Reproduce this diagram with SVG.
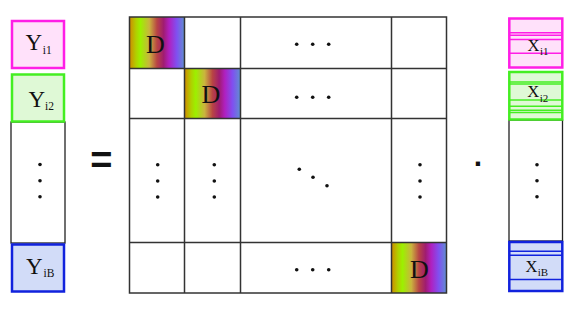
<svg xmlns="http://www.w3.org/2000/svg" width="581" height="313" viewBox="0 0 581 313">
<defs>
<linearGradient id="rain" x1="0" y1="0" x2="1" y2="0">
<stop offset="0" stop-color="#d08a00"/>
<stop offset="0.12" stop-color="#b0d000"/>
<stop offset="0.2" stop-color="#9cf000"/>
<stop offset="0.36" stop-color="#cab43e"/>
<stop offset="0.5" stop-color="#b84444"/>
<stop offset="0.62" stop-color="#a01c70"/>
<stop offset="0.72" stop-color="#b020c0"/>
<stop offset="0.86" stop-color="#8050f0"/>
<stop offset="1" stop-color="#6090d0"/>
</linearGradient>
<style>
.grid{fill:none;stroke:#333;stroke-width:1.5}
.dot{fill:#111}
.big{font-family:"Liberation Serif","Times New Roman",serif;fill:#111}
.mag{stroke:#ff1ee6;fill:#ffe1fa}
.grn{stroke:#44ee22;fill:#dff9d6}
.blu{stroke:#1122dd;fill:#d2dcf8}
.mag,.grn,.blu{stroke-width:2.5}
.ml{stroke:#ff1ee6;stroke-width:1.5}
.gl{stroke:#44ee22;stroke-width:1.5}
.bl{stroke:#1122dd;stroke-width:1.5}
.wbox{fill:#fff;stroke:#222;stroke-width:1.3}
.op{font-family:"Liberation Sans",Arial,sans-serif;font-weight:bold;fill:#111}
</style>
</defs>
<rect width="581" height="313" fill="#fff"/>

<g id="Y">
<rect class="wbox" x="11" y="122" width="54" height="121"/>
<circle class="dot" cx="40" cy="164.5" r="1.8"/>
<circle class="dot" cx="40" cy="180.7" r="1.8"/>
<circle class="dot" cx="40" cy="196.7" r="1.8"/>
<g id="Yi1">
<rect class="mag" x="12" y="21" width="52" height="47"/>
<text class="big" x="25.5" y="50" font-size="23">Y</text>
<text class="big" x="42.7" y="54.3" font-size="11.5">i1</text>
</g>
<g id="Yi2">
<rect class="grn" x="12" y="74.5" width="52" height="47"/>
<text class="big" x="28.5" y="106.7" font-size="23">Y</text>
<text class="big" x="45" y="110" font-size="11.5">i2</text>
</g>
<g id="YiB">
<rect class="blu" x="12" y="244.5" width="52" height="47"/>
<text class="big" x="26" y="274" font-size="23">Y</text>
<text class="big" x="43.5" y="276.7" font-size="11.5">iB</text>
</g>
</g>

<g id="eq">
<text class="op" x="101.3" y="173" font-size="38" text-anchor="middle">=</text>
</g>

<g id="M">
<rect x="129.5" y="17" width="55" height="51.5" fill="url(#rain)"/>
<rect x="184.5" y="68.5" width="56" height="50" fill="url(#rain)"/>
<rect x="391.5" y="242.5" width="55" height="50.5" fill="url(#rain)"/>
<text class="big" x="155.5" y="52.5" font-size="26" text-anchor="middle">D</text>
<text class="big" x="211" y="103.2" font-size="26" text-anchor="middle">D</text>
<text class="big" x="419.3" y="277.8" font-size="26" text-anchor="middle">D</text>
<rect class="grid" x="129.5" y="17" width="317" height="276"/>
<line class="grid" x1="184.5" y1="17" x2="184.5" y2="293"/>
<line class="grid" x1="240.5" y1="17" x2="240.5" y2="293"/>
<line class="grid" x1="391.5" y1="17" x2="391.5" y2="293"/>
<line class="grid" x1="129.5" y1="68.5" x2="446.5" y2="68.5"/>
<line class="grid" x1="129.5" y1="118.5" x2="446.5" y2="118.5" stroke="#666"/>
<line class="grid" x1="129.5" y1="242.5" x2="446.5" y2="242.5" stroke="#666"/>
<g class="dot">
<circle cx="296.7" cy="44.3" r="1.8"/><circle cx="312.7" cy="44.3" r="1.8"/><circle cx="328.7" cy="44.3" r="1.8"/>
<circle cx="296.7" cy="97.3" r="1.8"/><circle cx="312.7" cy="97.3" r="1.8"/><circle cx="328.7" cy="97.3" r="1.8"/>
<circle cx="296.7" cy="269.7" r="1.8"/><circle cx="312.7" cy="269.7" r="1.8"/><circle cx="328.7" cy="269.7" r="1.8"/>
<circle cx="157.7" cy="164.7" r="1.8"/><circle cx="157.7" cy="181" r="1.8"/><circle cx="157.7" cy="197" r="1.8"/>
<circle cx="214.3" cy="164.7" r="1.8"/><circle cx="214.3" cy="181" r="1.8"/><circle cx="214.3" cy="197" r="1.8"/>
<circle cx="420" cy="164.7" r="1.8"/><circle cx="420" cy="181" r="1.8"/><circle cx="420" cy="197" r="1.8"/>
<circle cx="299.3" cy="169.3" r="1.8"/><circle cx="313" cy="177.3" r="1.8"/><circle cx="327" cy="185.7" r="1.8"/>
</g>
</g>

<g id="dotop">
<text class="op" x="478.7" y="174" font-size="30" text-anchor="middle">·</text>
</g>

<g id="X">
<rect class="wbox" x="509" y="120" width="53.5" height="121"/>
<circle class="dot" cx="537" cy="164.7" r="1.8"/>
<circle class="dot" cx="537" cy="180.7" r="1.8"/>
<circle class="dot" cx="537" cy="196.7" r="1.8"/>
<g id="Xi1">
<rect class="mag" x="509.3" y="18.5" width="53" height="49"/>
<line class="ml" x1="509.3" y1="32.7" x2="562.3" y2="32.7"/>
<line class="ml" x1="509.3" y1="35.3" x2="562.3" y2="35.3"/>
<line class="ml" x1="509.3" y1="39.5" x2="562.3" y2="39.5"/>
<line class="ml" x1="509.3" y1="53.3" x2="562.3" y2="53.3"/>
<text class="big" x="527.5" y="50.5" font-size="16.5">X</text>
<text class="big" x="540" y="55" font-size="11">i1</text>
</g>
<g id="Xi2">
<rect class="grn" x="509.3" y="72" width="53" height="47.5"/>
<line class="gl" x1="509.3" y1="82" x2="562.3" y2="82"/>
<line class="gl" x1="509.3" y1="84" x2="562.3" y2="84"/>
<line class="gl" x1="509.3" y1="100" x2="562.3" y2="100"/>
<line class="gl" x1="509.3" y1="106.3" x2="562.3" y2="106.3"/>
<line class="gl" x1="509.3" y1="110.3" x2="562.3" y2="110.3"/>
<line class="gl" x1="509.3" y1="112.5" x2="562.3" y2="112.5"/>
<text class="big" x="527.2" y="97.3" font-size="16.5">X</text>
<text class="big" x="539.8" y="102" font-size="11">i2</text>
</g>
<g id="XiB">
<rect class="blu" x="509.3" y="242" width="53" height="49"/>
<line class="bl" x1="509.3" y1="251.3" x2="562.3" y2="251.3"/>
<line class="bl" x1="509.3" y1="255.3" x2="562.3" y2="255.3"/>
<line class="bl" x1="509.3" y1="279.5" x2="562.3" y2="279.5"/>
<text class="big" x="525.5" y="271.5" font-size="16.5">X</text>
<text class="big" x="537.8" y="276" font-size="11">iB</text>
</g>
</g>
</svg>
